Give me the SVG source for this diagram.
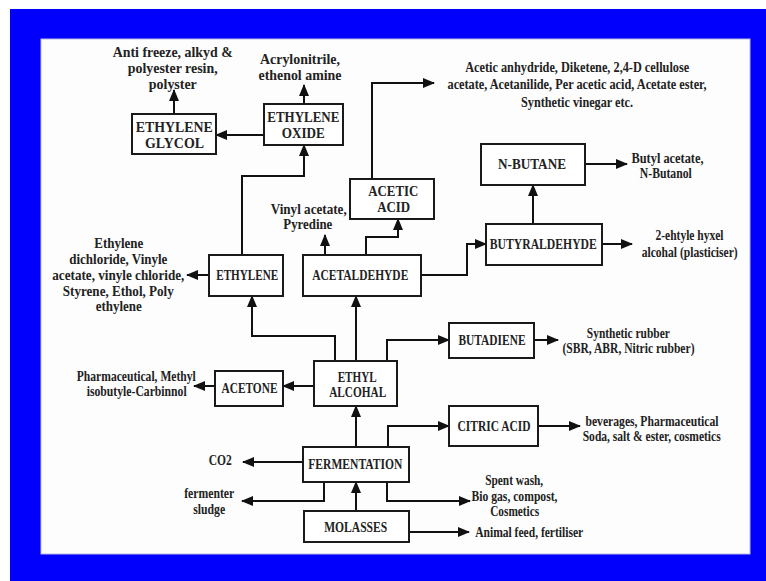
<svg xmlns="http://www.w3.org/2000/svg" width="766" height="581" viewBox="0 0 766 581">
<style>
  text { font-family: "Liberation Serif", "Times New Roman", serif; font-weight: bold; font-size: 14.5px; fill: #222; text-anchor: middle; }
  .box { fill: #ffffff; stroke: #1a1a1a; stroke-width: 2; }
  .con { fill: none; stroke: #111; stroke-width: 2; marker-end: url(#arr); }
</style>
<defs>
  <marker id="arr" markerUnits="userSpaceOnUse" markerWidth="12" markerHeight="10" refX="11" refY="5" orient="auto">
    <path d="M0,0 L12,5 L0,10 z" fill="#111"/>
  </marker>
</defs>
<rect x="0" y="0" width="766" height="581" fill="#ffffff"/>
<rect x="10" y="9" width="756" height="572" fill="#0000fc"/>
<rect x="41" y="39" width="709" height="515" fill="#fdfdfd" stroke="#b8b8e0" stroke-width="1"/>

<g id="connectors">
  <path class="con" d="M174,114 V90"/>
  <path class="con" d="M264,135 H216"/>
  <path class="con" d="M304,104 V85"/>
  <path class="con" d="M242,255 V176 H304 V145"/>
  <path class="con" d="M209,275 H187"/>
  <path class="con" d="M325,255 V235"/>
  <path class="con" d="M366,255 V237 H398 V219"/>
  <path class="con" d="M372,179 V83 H434"/>
  <path class="con" d="M421,275 H467 V244 H486"/>
  <path class="con" d="M533,224 V185"/>
  <path class="con" d="M585,164 H627"/>
  <path class="con" d="M602,244 H632"/>
  <path class="con" d="M335,361 V336 H252 V296"/>
  <path class="con" d="M356,361 V296"/>
  <path class="con" d="M387,361 V340 H449"/>
  <path class="con" d="M531,340 H558"/>
  <path class="con" d="M314,386 H283"/>
  <path class="con" d="M215,386 H194"/>
  <path class="con" d="M356,447 V406"/>
  <path class="con" d="M388,447 V426 H449"/>
  <path class="con" d="M538,426 H580"/>
  <path class="con" d="M303,462 H243"/>
  <path class="con" d="M324,482 V501 H242"/>
  <path class="con" d="M356,511 V482"/>
  <path class="con" d="M387,482 V501 H470"/>
  <path class="con" d="M409,532 H469"/>
</g>

<g id="ethylene-glycol">
  <rect class="box" x="132" y="114" width="84" height="40"/>
  <text x="174.3" y="132" textLength="77" lengthAdjust="spacingAndGlyphs">ETHYLENE</text>
  <text x="174.5" y="148" textLength="59" lengthAdjust="spacingAndGlyphs">GLYCOL</text>
</g>
<g id="ethylene-oxide">
  <rect class="box" x="264" y="104" width="79" height="41"/>
  <text x="303.3" y="122" textLength="72" lengthAdjust="spacingAndGlyphs">ETHYLENE</text>
  <text x="303.3" y="138" textLength="43" lengthAdjust="spacingAndGlyphs">OXIDE</text>
</g>
<g id="ethylene">
  <rect class="box" x="209" y="255" width="74" height="41"/>
  <text x="247.2" y="280" textLength="62" lengthAdjust="spacingAndGlyphs">ETHYLENE</text>
</g>
<g id="acetaldehyde">
  <rect class="box" x="303" y="255" width="118" height="41"/>
  <text x="360.3" y="280" textLength="96" lengthAdjust="spacingAndGlyphs">ACETALDEHYDE</text>
</g>
<g id="acetic-acid">
  <rect class="box" x="350" y="179" width="84" height="40"/>
  <text x="393.3" y="196" textLength="50" lengthAdjust="spacingAndGlyphs">ACETIC</text>
  <text x="393.7" y="212" textLength="33" lengthAdjust="spacingAndGlyphs">ACID</text>
</g>
<g id="n-butane">
  <rect class="box" x="481" y="144" width="104" height="41"/>
  <text x="532" y="169" textLength="68" lengthAdjust="spacingAndGlyphs">N-BUTANE</text>
</g>
<g id="butyraldehyde">
  <rect class="box" x="486" y="224" width="116" height="41"/>
  <text x="543.3" y="249" textLength="107" lengthAdjust="spacingAndGlyphs">BUTYRALDEHYDE</text>
</g>
<g id="butadiene">
  <rect class="box" x="449" y="323" width="85" height="35"/>
  <text x="492" y="345" textLength="67" lengthAdjust="spacingAndGlyphs">BUTADIENE</text>
</g>
<g id="ethyl-alcohal">
  <rect class="box" x="314" y="361" width="83" height="45"/>
  <text x="357.2" y="382" textLength="39" lengthAdjust="spacingAndGlyphs">ETHYL</text>
  <text x="357.7" y="397" textLength="57" lengthAdjust="spacingAndGlyphs">ALCOHAL</text>
</g>
<g id="acetone">
  <rect class="box" x="215" y="371" width="68" height="35"/>
  <text x="249.5" y="393" textLength="56" lengthAdjust="spacingAndGlyphs">ACETONE</text>
</g>
<g id="citric-acid">
  <rect class="box" x="449" y="406" width="89" height="40"/>
  <text x="494" y="431" textLength="73" lengthAdjust="spacingAndGlyphs">CITRIC ACID</text>
</g>
<g id="fermentation">
  <rect class="box" x="303" y="447" width="106" height="35"/>
  <text x="355.3" y="469" textLength="94" lengthAdjust="spacingAndGlyphs">FERMENTATION</text>
</g>
<g id="molasses">
  <rect class="box" x="304" y="511" width="105" height="31"/>
  <text x="355.7" y="532" textLength="63" lengthAdjust="spacingAndGlyphs">MOLASSES</text>
</g>

<g id="labels">
  <text x="172.7" y="57" textLength="120" lengthAdjust="spacingAndGlyphs">Anti freeze, alkyd &amp;</text>
  <text x="172.7" y="73" textLength="90" lengthAdjust="spacingAndGlyphs">polyester resin,</text>
  <text x="172.8" y="89" textLength="48" lengthAdjust="spacingAndGlyphs">polyster</text>
  <text x="300" y="64" textLength="80" lengthAdjust="spacingAndGlyphs">Acrylonitrile,</text>
  <text x="300" y="80" textLength="83" lengthAdjust="spacingAndGlyphs">ethenol amine</text>
  <text x="577.2" y="72" textLength="224" lengthAdjust="spacingAndGlyphs">Acetic anhydride, Diketene, 2,4-D cellulose</text>
  <text x="577" y="89" textLength="259" lengthAdjust="spacingAndGlyphs">acetate, Acetanilide, Per acetic acid, Acetate ester,</text>
  <text x="577" y="107" textLength="112" lengthAdjust="spacingAndGlyphs">Synthetic vinegar etc.</text>
  <text x="667.5" y="163" textLength="72" lengthAdjust="spacingAndGlyphs">Butyl acetate,</text>
  <text x="665.8" y="178" textLength="52" lengthAdjust="spacingAndGlyphs">N-Butanol</text>
  <text x="689.5" y="240" textLength="68" lengthAdjust="spacingAndGlyphs">2-ehtyle hyxel</text>
  <text x="689.7" y="257" textLength="96" lengthAdjust="spacingAndGlyphs">alcohal (plasticiser)</text>
  <text x="308.7" y="214" textLength="76" lengthAdjust="spacingAndGlyphs">Vinyl acetate,</text>
  <text x="307.8" y="229" textLength="49" lengthAdjust="spacingAndGlyphs">Pyredine</text>
  <text x="118.8" y="248" textLength="49" lengthAdjust="spacingAndGlyphs">Ethylene</text>
  <text x="118.3" y="264" textLength="98" lengthAdjust="spacingAndGlyphs">dichloride, Vinyle</text>
  <text x="118.3" y="280" textLength="132" lengthAdjust="spacingAndGlyphs">acetate, vinyle chloride,</text>
  <text x="118.3" y="296" textLength="111" lengthAdjust="spacingAndGlyphs">Styrene, Ethol, Poly</text>
  <text x="118.7" y="311" textLength="46" lengthAdjust="spacingAndGlyphs">ethylene</text>
  <text x="136.3" y="381" textLength="119" lengthAdjust="spacingAndGlyphs">Pharmaceutical, Methyl</text>
  <text x="136.7" y="396" textLength="100" lengthAdjust="spacingAndGlyphs">isobutyle-Carbinnol</text>
  <text x="628.3" y="338" textLength="83" lengthAdjust="spacingAndGlyphs">Synthetic rubber</text>
  <text x="628.5" y="353" textLength="132" lengthAdjust="spacingAndGlyphs">(SBR, ABR, Nitric rubber)</text>
  <text x="652" y="426" textLength="133" lengthAdjust="spacingAndGlyphs">beverages, Pharmaceutical</text>
  <text x="651.7" y="441" textLength="138" lengthAdjust="spacingAndGlyphs">Soda, salt &amp; ester, cosmetics</text>
  <text x="220.3" y="465" textLength="23" lengthAdjust="spacingAndGlyphs">CO2</text>
  <text x="209.2" y="498" textLength="50" lengthAdjust="spacingAndGlyphs">fermenter</text>
  <text x="209.2" y="514" textLength="32" lengthAdjust="spacingAndGlyphs">sludge</text>
  <text x="514.2" y="485" textLength="58" lengthAdjust="spacingAndGlyphs">Spent wash,</text>
  <text x="514.5" y="501" textLength="86" lengthAdjust="spacingAndGlyphs">Bio gas, compost,</text>
  <text x="514.7" y="516" textLength="49" lengthAdjust="spacingAndGlyphs">Cosmetics</text>
  <text x="529.2" y="537" textLength="108" lengthAdjust="spacingAndGlyphs">Animal feed, fertiliser</text>
</g>
</svg>
